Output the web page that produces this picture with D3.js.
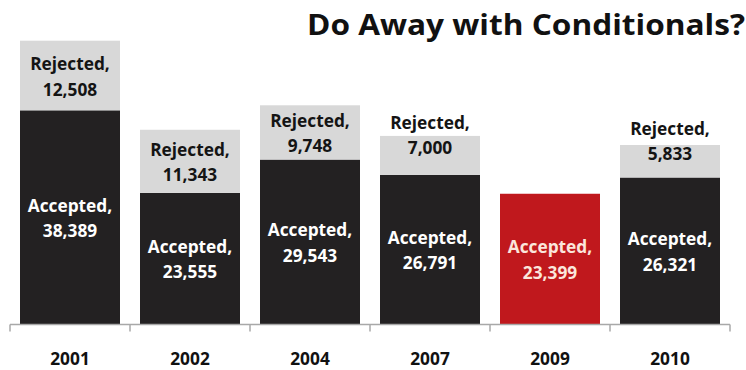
<!DOCTYPE html>
<html>
<head>
<meta charset="utf-8">
<script src="https://cdn.jsdelivr.net/npm/d3@7/dist/d3.min.js"></script>
<style>
  html, body { margin: 0; padding: 0; background: #ffffff; }
  svg { display: block; }
  text { font-family: "Open Sans", Lato, sans-serif; font-weight: 700; }
</style>
</head>
<body>
<div id="chart"></div>
<script>
// Conditional admissions by year: accepted vs rejected
const years = ["2001", "2002", "2004", "2007", "2009", "2010"];
const accepted = [38389, 23555, 29543, 26791, 23399, 26321];
const rejected = [12508, 11343, 9748, 7000, null, 5833];
const highlightYear = "2009";
const titleText = "Do Away with Conditionals?";

const W = 746, H = 370;
const svg = d3.select("#chart").append("svg")
  .attr("width", W).attr("height", H);

const fmt = d3.format(",");
const rows = years.map((y, i) => ({
  year: y,
  acc: accepted[i],
  rej: rejected[i],
  total: accepted[i] + (rejected[i] || 0)
}));

const x = d3.scaleBand()
  .domain(years)
  .range([10, 730])
  .paddingInner(1 / 6)
  .paddingOuter(1 / 12);

const y = d3.scaleLinear()
  .domain([0, d3.max(rows, d => d.total)])
  .range([324, 40.7]);

// title
const title = svg.append("text")
  .attr("x", 745).attr("y", 35)
  .attr("text-anchor", "end")
  .attr("font-size", 28)
  .attr("fill", "#111")
  .text(titleText);
const tw = title.node().getComputedTextLength();
if (Math.abs(tw - 438) > 4) {
  title.attr("textLength", 438).attr("lengthAdjust", "spacingAndGlyphs");
}

// bars
const g = svg.append("g");
const bars = g.selectAll("g.bar").data(rows).join("g").attr("class", "bar");

bars.append("rect")
  .attr("x", d => x(d.year))
  .attr("width", x.bandwidth())
  .attr("y", d => y(d.acc))
  .attr("height", d => y(0) - y(d.acc))
  .attr("fill", d => d.year === highlightYear ? "#c0181d" : "#232122");

bars.filter(d => d.rej != null).append("rect")
  .attr("x", d => x(d.year))
  .attr("width", x.bandwidth())
  .attr("y", d => y(d.total))
  .attr("height", d => y(d.acc) - y(d.total))
  .attr("fill", "#d8d8d8");

// two-line data labels centred in each segment
const LINE = 25.5;
const LABEL_SIZE = 17.3;
function addLabel(sel, name, value, top, bottom, color) {
  const h = bottom - top;
  const c = (top + bottom) / 2;
  // short segments: lift the label so its lower line sits at the segment middle
  const base1 = h < 45 ? c - 1 - LINE : c - 5.5;
  const d = sel.datum();
  const cx = x(d.year) + x.bandwidth() / 2;
  const t = sel.append("text")
    .attr("text-anchor", "middle")
    .attr("font-size", LABEL_SIZE)
    .attr("fill", color);
  t.append("tspan").attr("x", cx).attr("y", base1).text(name + ",");
  t.append("tspan").attr("x", cx).attr("y", base1 + LINE).text(fmt(value));
}

bars.each(function (d) {
  const s = d3.select(this);
  addLabel(s, "Accepted", d.acc, y(d.acc), y(0),
    d.year === highlightYear ? "#fbe6dc" : "#ffffff");
  if (d.rej != null) {
    addLabel(s, "Rejected", d.rej, y(d.total), y(d.acc), "#141414");
  }
});

// category axis: Excel-style ticks on the band boundaries
const axisY = 324.5;
const axis = svg.append("g").attr("transform", `translate(0,${axisY})`);
const [r0, r1] = x.range();
axis.append("line")
  .attr("x1", r0).attr("x2", r1)
  .attr("stroke", "#a8a8a8").attr("stroke-width", 1.5);
axis.selectAll("line.tick")
  .data(d3.range(years.length + 1))
  .join("line").attr("class", "tick")
  .attr("x1", i => r0 + i * x.step()).attr("x2", i => r0 + i * x.step())
  .attr("y1", 0).attr("y2", 7)
  .attr("stroke", "#a8a8a8").attr("stroke-width", 1.5);

const labels = svg.append("g")
  .attr("transform", `translate(0,${axisY})`)
  .call(d3.axisBottom(x).tickSize(0).tickPadding(0));
labels.select(".domain").remove();
labels.selectAll("text")
  .attr("y", 40.5).attr("dy", 0)
  .attr("font-size", LABEL_SIZE)
  .attr("font-family", "'Open Sans', Lato, sans-serif")
  .attr("font-weight", 700)
  .attr("fill", "#111");
</script>
</body>
</html>
